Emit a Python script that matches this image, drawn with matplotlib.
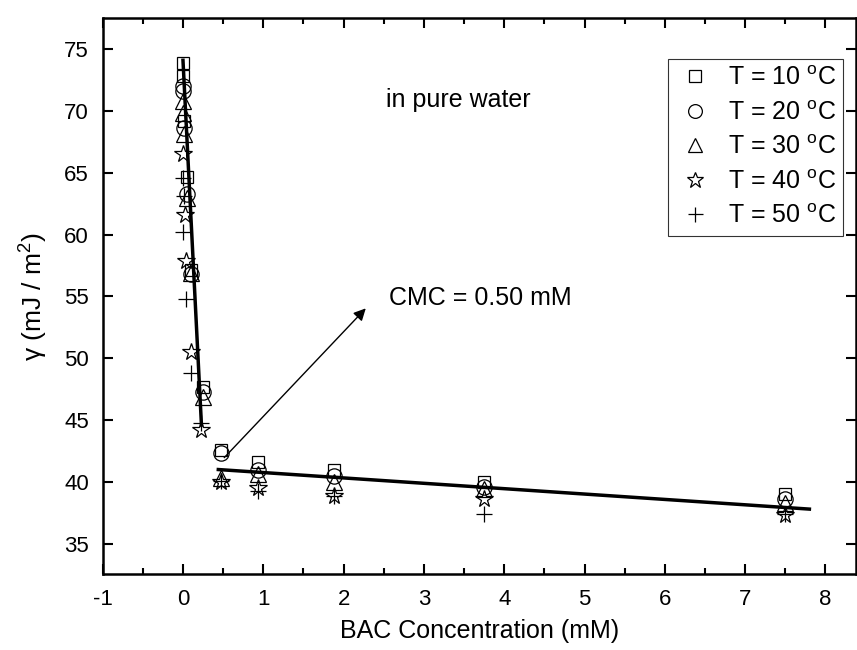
import matplotlib.pyplot as plt
from matplotlib.ticker import MultipleLocator

plt.rcParams['font.family'] = ['Liberation Sans', 'DejaVu Sans']
plt.rcParams['mathtext.default'] = 'regular'
plt.rcParams['axes.unicode_minus'] = False

# BAC concentration (mM) and surface tension (mJ/m2) for each temperature
x_10 = [0.0, 0.005, 0.01, 0.05, 0.1, 0.25, 0.47, 0.94, 1.88, 3.75, 7.5]
y_10 = [73.9, 72.8, 69.2, 64.7, 57.1, 47.7, 42.6, 41.6, 41.0, 40.0, 39.0]

x_20 = [0.0, 0.005, 0.01, 0.05, 0.1, 0.25, 0.47, 0.94, 1.88, 3.75, 7.5]
y_20 = [72.0, 71.6, 68.6, 63.3, 56.8, 47.3, 42.3, 41.0, 40.5, 39.6, 38.6]

x_30 = [0.0, 0.005, 0.01, 0.05, 0.1, 0.25, 0.47, 0.94, 1.88, 3.75, 7.5]
y_30 = [70.8, 69.8, 68.1, 63.0, 56.9, 46.9, 40.3, 40.6, 40.0, 39.4, 38.3]

x_40 = [0.0, 0.02, 0.04, 0.1, 0.23, 0.47, 0.94, 1.88, 3.75, 7.5]
y_40 = [66.5, 61.6, 57.9, 50.5, 44.2, 40.0, 39.5, 38.9, 38.6, 37.3]

x_50 = [0.0, 0.01, 0.0, 0.04, 0.1, 0.23, 0.47, 0.94, 1.88, 3.75, 7.5]
y_50 = [64.6, 63.1, 60.2, 54.8, 48.8, 44.8, 40.1, 39.3, 38.9, 37.4, 37.4]

# fitted lines
fit1_x = [0.0, 0.23]
fit1_y = [74.1, 44.6]
fit2_x = [0.44, 7.8]
fit2_y = [41.0, 37.8]

series = [
    (x_10, y_10, 's', 9, "T = 10 $^{o}$C"),
    (x_20, y_20, 'o', 11, "T = 20 $^{o}$C"),
    (x_30, y_30, '^', 11, "T = 30 $^{o}$C"),
    (x_40, y_40, '*', 13, "T = 40 $^{o}$C"),
    (x_50, y_50, '+', 12, "T = 50 $^{o}$C"),
]

fig = plt.figure(figsize=(8.57, 6.5), dpi=100)
ax = fig.add_axes([0.1198, 0.1169, 0.879, 0.855])

for xs, ys, m, ms, lab in series:
    ax.plot(xs, ys, linestyle='none', marker=m, markersize=ms,
            markerfacecolor='none', markeredgecolor='black',
            markeredgewidth=0.9, label=lab)

ax.plot(fit1_x, fit1_y, color='black', linewidth=2.5)
ax.plot(fit2_x, fit2_y, color='black', linewidth=2.5)

ax.annotate("", xy=(2.3, 54.2), xytext=(0.49, 41.8),
            arrowprops=dict(arrowstyle='-|>', color='black', lw=1,
                            mutation_scale=18))
ax.text(2.57, 54.9, "CMC = 0.50 mM", fontsize=18, va='center')
ax.text(2.53, 70.9, "in pure water", fontsize=18, va='center')

ax.set_xlim(-1, 8.38)
ax.set_ylim(32.55, 77.5)
ax.xaxis.set_major_locator(MultipleLocator(1))
ax.xaxis.set_minor_locator(MultipleLocator(0.5))
ax.yaxis.set_major_locator(MultipleLocator(5))
ax.tick_params(which='both', direction='in', top=True, right=True,
               labelsize=16, width=1.5)
ax.tick_params(which='major', length=7)
ax.tick_params(which='minor', length=4)
ax.tick_params(axis='y', pad=10)
ax.tick_params(axis='x', pad=11)
for s in ax.spines.values():
    s.set_linewidth(1.8)

ax.set_xlabel("BAC Concentration (mM)", fontsize=18, labelpad=6)
ax.set_ylabel(r"$\gamma$ (mJ / m$^{2}$)", fontsize=19, labelpad=10)

leg = ax.legend(loc='upper right', bbox_to_anchor=(1.0, 0.95),
                fontsize=18, frameon=True, fancybox=False,
                edgecolor='black', handletextpad=0.5, labelspacing=0.42,
                borderpad=0.3, markerscale=0.9, handlelength=1.6)
leg.get_frame().set_linewidth(0.8)

fig.savefig("out.png", dpi=100)
